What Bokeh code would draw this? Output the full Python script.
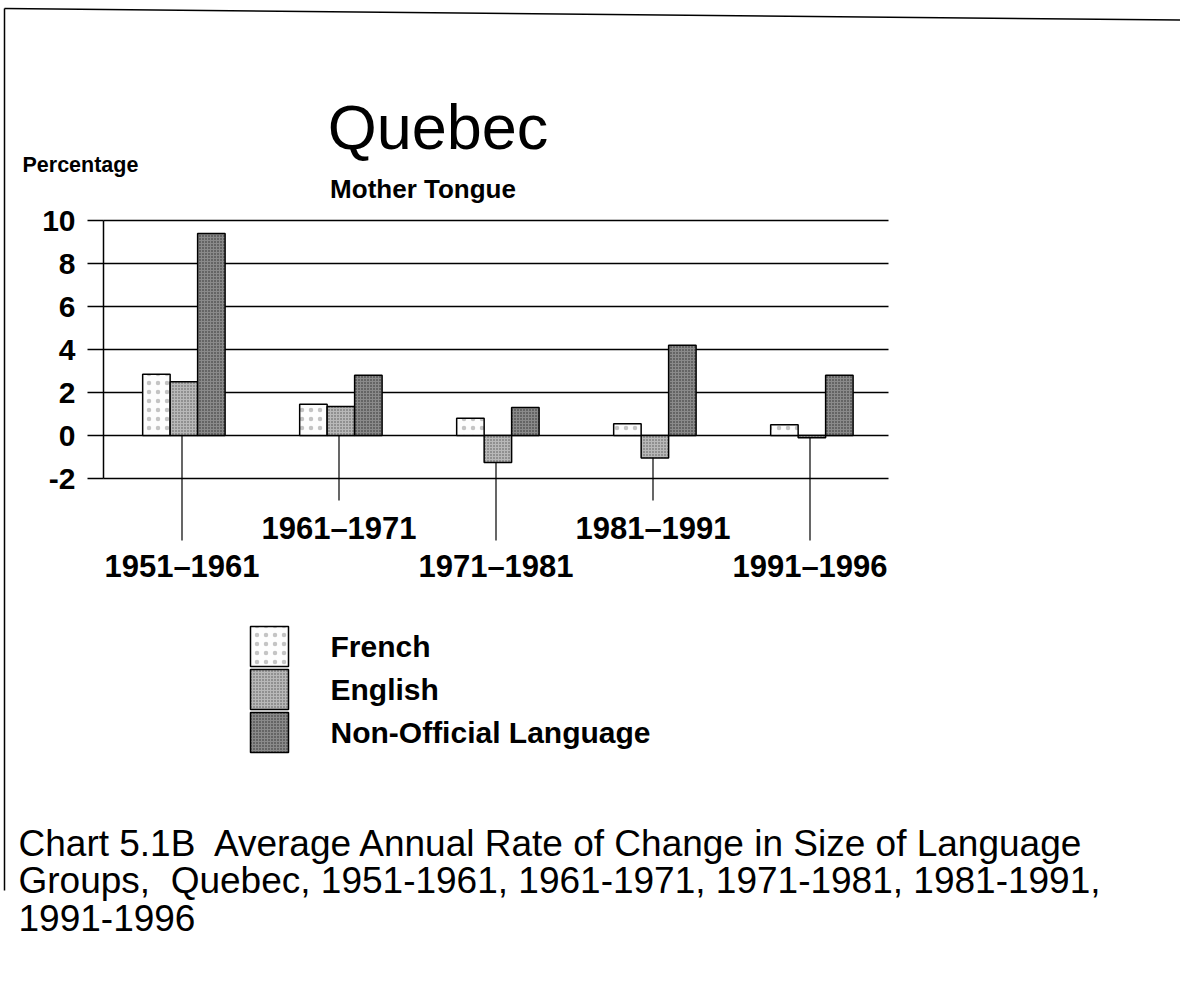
from bokeh.plotting import figure
from bokeh.models import (Range1d, FixedTicker, Label, LinearAxis,
                          ColumnDataSource)
from bokeh.transform import dodge
from bokeh.embed import file_html
from bokeh.resources import INLINE
from bokeh.core.properties import value

# ---------------- data ----------------
periods = ["1951\u20131961", "1961\u20131971", "1971\u20131981", "1981\u20131991", "1991\u20131996"]
french = [2.85, 1.45, 0.8, 0.55, 0.5]
english = [2.5, 1.35, -1.25, -1.05, -0.1]
non_official = [9.4, 2.8, 1.3, 4.2, 2.8]
series_names = ["French", "English", "Non-Official Language"]
y_ticks = [-2, 0, 2, 4, 6, 8, 10]
title_text = "Quebec"
subtitle_text = "Mother Tongue"
y_label_text = "Percentage"
caption_lines = [
    "Chart 5.1B\u00a0 Average Annual Rate of Change in Size of Language",
    "Groups,\u00a0 Quebec, 1951-1961, 1961-1971, 1971-1981, 1981-1991,",
    "1991-1996",
]

# ---------------- layout helpers (page pixels -> data units) ----------------
W, H = 1180, 979
PX_X = 157.0          # pixels per category
PX_Y = 21.5           # pixels per percentage point
X0_PX = 181.5         # page x of first category centre
ZERO_PX = 435         # page y of value 0
FONT = "Liberation Sans"


def X(px):
    return (px - X0_PX) / PX_X


def Y(py):
    return (ZERO_PX - py) / PX_Y


p = figure(width=W, height=H, x_range=Range1d(X(0), X(W)),
           y_range=Range1d(Y(H), Y(0)),
           output_backend="svg", toolbar_location=None,
           x_axis_location=None, y_axis_location=None,
           min_border=0, outline_line_color=None)
p.xgrid.visible = False
p.ygrid.visible = False
p.background_fill_color = "white"
p.border_fill_color = "white"

n = len(periods)
x_lo, x_hi = -0.5, n - 0.5

# value axis, drawn at the left edge of the category area
ticker = FixedTicker(ticks=y_ticks)
ax = LinearAxis(ticker=ticker, fixed_location=x_lo,
                bounds=(min(y_ticks), max(y_ticks)))
ax.axis_line_width = 1.5
ax.axis_line_color = "black"
ax.major_tick_out = 16
ax.major_tick_in = 0
ax.major_tick_line_width = 1.5
ax.major_tick_line_color = "black"
ax.minor_tick_out = 0
ax.minor_tick_in = 0
ax.minor_tick_line_color = None
ax.major_label_text_font = FONT
ax.major_label_text_font_size = "30px"
ax.major_label_text_font_style = "bold"
ax.major_label_text_color = "black"
ax.major_label_standoff = 12
ax.major_label_overrides = {t: str(t) for t in y_ticks}
p.add_layout(ax, "left")

# horizontal gridlines at the axis ticks, across the category area
p.segment(x0=[x_lo] * len(y_ticks), x1=[x_hi] * len(y_ticks), y0=y_ticks, y1=y_ticks,
          line_color="black", line_width=1.5)

idx = list(range(n))
tier = [i % 2 for i in idx]
src = ColumnDataSource(dict(
    x=idx, period=periods, french=french, english=english, non=non_official,
    line_end=[Y(540) if t == 0 else Y(500) for t in tier],
    label_y=[Y(566) if t == 0 else Y(528) for t in tier],
))

# category drop lines and staggered labels
p.segment(x0="x", y0=0, x1="x", y1="line_end", source=src,
          line_color="black", line_width=1.2)
p.text(x="x", y="label_y", text="period", source=src, text_align="center",
       text_baseline="middle", text_font=value(FONT),
       text_font_style="bold", text_font_size="31px", text_color="black")

BW = 0.175
styles = [
    dict(fill_color="#fdfdfd", hatch_pattern="dot", hatch_scale=9, hatch_color="#c4c4c4", hatch_weight=1),
    dict(fill_color="#b8b8b8", hatch_pattern="dot", hatch_scale=3, hatch_color="#555555", hatch_weight=1),
    dict(fill_color="#8a8a8a", hatch_pattern="dot", hatch_scale=3, hatch_color="#2a2a2a", hatch_weight=1),
]
for col, off, st in zip(["french", "english", "non"], [-BW, 0, BW], styles):
    p.vbar(x=dodge("x", off + 0.012, range=p.x_range), top=col, bottom=0, width=BW,
           source=src, line_color="black", line_width=1.5, **st)

# legend (swatches + labels)
leg_y = [Y(646 + 43 * k) for k in range(len(series_names))]
for k, (name, st) in enumerate(zip(series_names, styles)):
    p.rect(x=[X(269)], y=[leg_y[k]], width=38, height=40, width_units="screen",
           height_units="screen", line_color="black", line_width=1.5, **st)
p.text(x=[X(330)] * len(series_names), y=leg_y, text=series_names,
       text_align="left", text_baseline="middle", text_font=value(FONT),
       text_font_style="bold", text_font_size="30px", text_color="black")


def lab(x, y, text, size, bold=False, align="left"):
    p.add_layout(Label(x=X(x), y=Y(y), text=text, text_font=FONT,
                       text_font_size=size,
                       text_font_style="bold" if bold else "normal",
                       text_align=align, text_baseline="middle",
                       text_color="black"))


lab(437.5, 126, title_text, "63px", align="center")
lab(422.5, 188, subtitle_text, "26px", bold=True, align="center")
lab(22, 164, y_label_text, "21.5px", bold=True)
for k, line in enumerate(caption_lines):
    lab(18, 843 + 37 * k, line, "37px")

# edges of the scanned sheet
p.segment(x0=[X(4), X(4)], y0=[Y(890), Y(8)], x1=[X(4), X(W)], y1=[Y(8), Y(19.5)],
          line_color="black", line_width=1.5)

open("out.html", "w").write(file_html(p, INLINE))
